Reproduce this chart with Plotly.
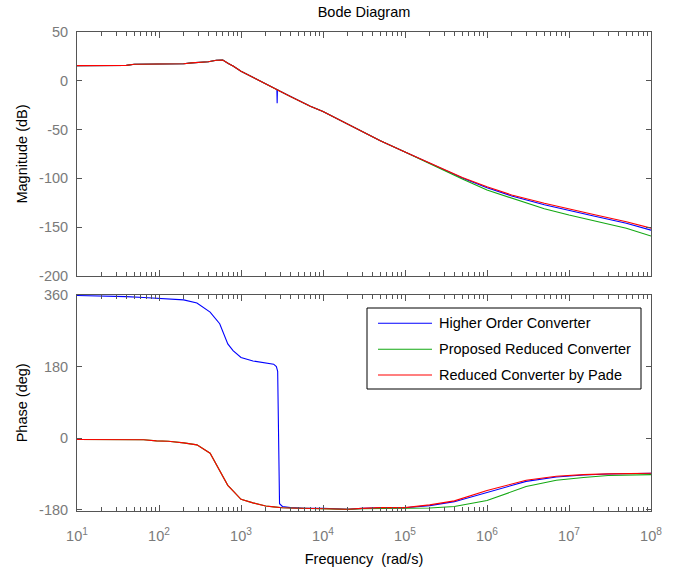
import plotly.graph_objects as go

# ---- frequency points (rad/s) ----
freq_mag = [10, 20, 30, 40, 50, 70, 100, 150, 200, 250, 300, 400, 500, 600, 700, 800,
            1000, 1500, 2000, 2500, 2740, 2760, 2780, 3000, 4000, 5000, 7000,
            1e4, 2e4, 5e4, 1e5, 2e5, 5e5, 1e6, 2e6, 5e6, 1e7, 2e7, 5e7, 1e8]

# ---- magnitude (dB) ----
mag_higher = [15.5, 15.5, 15.5, 15.8, 17.0, 17.2, 17.2, 17.2, 17.4, 18.4, 18.8, 19.5, 21.0, 21.2, 17.8, 15.2,
              9.8, 2.5, -3.5, -7.5, -9.0, -23.0, -9.2, -10.8, -16.0, -20.0, -26.0,
              -31.5, -44.5, -61.5, -73.0, -84.5, -99.5, -109.5, -118.0, -127.0, -133.0, -138.5, -146.0, -153.0]
mag_proposed = [15.5, 15.5, 15.5, 15.8, 17.0, 17.2, 17.2, 17.2, 17.4, 18.4, 18.8, 19.5, 21.0, 21.2, 17.8, 15.2,
                9.8, 2.5, -3.5, -7.5, -9.0, -9.1, -9.2, -10.8, -16.0, -20.0, -26.0,
                -31.5, -44.5, -61.5, -73.0, -85.0, -100.5, -112.0, -120.5, -131.0, -137.5, -143.5, -151.0, -159.0]
mag_pade = [15.5, 15.5, 15.5, 15.8, 17.0, 17.2, 17.2, 17.2, 17.4, 18.4, 18.8, 19.5, 21.0, 21.2, 17.8, 15.2,
            9.8, 2.5, -3.5, -7.5, -9.0, -9.1, -9.2, -10.8, -16.0, -20.0, -26.0,
            -31.5, -44.5, -61.5, -73.0, -84.5, -99.0, -108.5, -117.0, -125.5, -131.5, -137.0, -144.5, -151.0]

# ---- phase (deg) ----
freq_ph = [10, 20, 40, 65, 93, 130, 200, 290, 420, 550, 690, 800, 1000, 1400, 2000, 2500,
           2700, 2800, 2950, 3200, 4000, 6000, 1e4, 2e4, 3e4, 5e4, 1e5, 2e5, 4e5, 1e6,
           3e6, 7e6, 1.5e7, 3e7, 1e8]
ph_higher = [359, 358, 356, 354, 352, 351, 348, 340, 317, 288, 237, 220, 203, 194, 189, 186,
             180, 168, -165, -172, -175, -176.5, -176.5, -179, -177, -175.5, -175.5, -170, -160, -136,
             -109, -98, -93, -90.5, -88.5]
ph_proposed = [-3.5, -3.5, -3.5, -4, -7, -8, -12, -17, -38, -82, -119, -133, -154, -163, -171, -173,
               -174, -174.5, -175, -175.5, -176, -176.5, -177, -179.5, -178, -177.5, -177, -176, -172, -157,
               -122, -106, -99, -94, -92]
ph_pade = [-3.5, -3.5, -3.5, -4, -7, -8, -12, -17, -38, -82, -119, -133, -154, -163, -171, -173,
           -174, -174.5, -175, -175.5, -176, -176.5, -176.5, -179, -177, -175, -175, -168, -158, -132,
           -106, -96, -92, -90, -88.5]

names = ["Higher Order Converter", "Proposed Reduced Converter", "Reduced Converter by Pade"]
colors = ["#0000ff", "#12a812", "#ff0000"]

decades = [10 ** e for e in range(1, 9)]
decade_text = ["10<sup>%d</sup>" % e for e in range(1, 9)]
minor_vals = [m * 10 ** e for e in range(1, 8) for m in range(2, 10)]

FONT = "Liberation Sans, Arial, Helvetica, sans-serif"
AXIS = "#555555"
TICKC = "#7a7a7a"

W, H = 690, 573
ML, MR, MT, MB = 77, 39, 32, 62
PW, PH = W - ML - MR, H - MT - MB


def px(x):
    return (x - ML) / PW


def py(y):
    return (H - MB - y) / PH


fig = go.Figure()
mags = [mag_higher, mag_proposed, mag_pade]
phs = [ph_higher, ph_proposed, ph_pade]
for i in range(3):
    fig.add_trace(go.Scatter(x=freq_mag, y=mags[i], mode="lines", name=names[i],
                             line=dict(color=colors[i], width=1.1),
                             xaxis="x", yaxis="y", showlegend=False))
for i in range(3):
    fig.add_trace(go.Scatter(x=freq_ph, y=phs[i], mode="lines", name=names[i],
                             line=dict(color=colors[i], width=1.1),
                             xaxis="x2", yaxis="y2", showlegend=False))

xcommon = dict(type="log", range=[1, 8], showgrid=False, zeroline=False, automargin=False,
               showline=True, linecolor=AXIS, linewidth=1, mirror="ticks",
               ticks="inside", ticklen=6, tickcolor=AXIS, tickwidth=1,
               tickvals=decades, ticktext=decade_text,
               minor=dict(ticks="inside", ticklen=4, tickcolor=AXIS, tickwidth=1,
                          tickmode="array", tickvals=minor_vals, showgrid=False),
               tickfont=dict(family=FONT, size=14.5, color=TICKC))
ycommon = dict(showgrid=False, zeroline=False, automargin=False,
               showline=True, linecolor=AXIS, linewidth=1,
               mirror="ticks", ticks="inside", ticklen=5, tickcolor=AXIS, tickwidth=1,
               tickfont=dict(family=FONT, size=14.5, color=TICKC), ticklabelstandoff=5)

mag_ticks = [50, 0, -50, -100, -150, -200]
ph_ticks = [360, 180, 0, -180]

# legend box drawn inside the phase panel
box = dict(x0=367, x1=641, y0=308, y1=389)
row_y = [323.3, 349.3, 375.0]
shapes = [dict(type="rect", xref="paper", yref="paper",
               x0=px(box["x0"]), x1=px(box["x1"]), y0=py(box["y1"]), y1=py(box["y0"]),
               line=dict(color="black", width=1), fillcolor="white", layer="above")]
annotations = []
for i in range(3):
    shapes.append(dict(type="line", xref="paper", yref="paper",
                       x0=px(378), x1=px(432), y0=py(row_y[i]), y1=py(row_y[i]),
                       line=dict(color=colors[i], width=1.1), layer="above"))
    annotations.append(dict(text=names[i], xref="paper", yref="paper",
                            x=px(437), y=py(row_y[i]), xanchor="left", yanchor="middle",
                            showarrow=False,
                            font=dict(family=FONT, size=14.5, color="black")))

fig.update_layout(
    width=W, height=H,
    margin=dict(l=ML, r=MR, t=MT, b=MB, autoexpand=False),
    paper_bgcolor="white", plot_bgcolor="white",
    font=dict(family=FONT, size=14.5, color="black"),
    showlegend=False,
    title=dict(text="Bode Diagram", x=364 / W, xanchor="center", xref="container",
               y=1 - 12 / H, yanchor="middle", yref="container",
               font=dict(family=FONT, size=14.5, color="black")),
    xaxis=dict(xcommon, anchor="y", domain=[0, 1], showticklabels=False),
    yaxis=dict(ycommon, anchor="x", domain=[0.4906, 1], range=[-200, 50],
               tickvals=mag_ticks, ticktext=[str(v) for v in mag_ticks],
               title=dict(text="Magnitude (dB)", standoff=7,
                          font=dict(family=FONT, size=14.5, color="black"))),
    xaxis2=dict(xcommon, anchor="y2", domain=[0, 1], matches="x", ticklabelstandoff=12,
                title=dict(text="Frequency\u00a0 (rad/s)", standoff=10,
                           font=dict(family=FONT, size=14.5, color="black"))),
    yaxis2=dict(ycommon, anchor="x2", domain=[0, 0.4516], range=[-183.5, 361],
                tickvals=ph_ticks, ticktext=[str(v) for v in ph_ticks],
                title=dict(text="Phase (deg)", standoff=7,
                           font=dict(family=FONT, size=14.5, color="black"))),
    shapes=shapes,
    annotations=annotations,
)

fig.write_html("out.html")
